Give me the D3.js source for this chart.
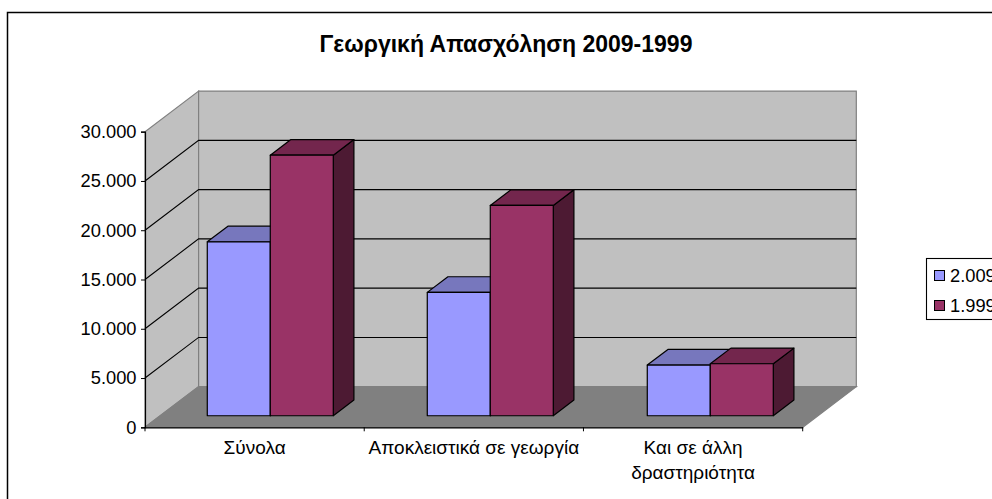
<!DOCTYPE html>
<html lang="el">
<head>
    <meta charset="UTF-8">
    <title>Γεωργική Απασχόληση 2009-1999</title>
    <script src="https://d3js.org/d3.v7.min.js"></script>
    <style>
        html, body { margin: 0; padding: 0; background: #fff; overflow: hidden; }
        svg { display: block; font-family: "Liberation Sans", Arial, sans-serif; fill: #000; }
    </style>
</head>
<body>
<svg width="992" height="499"></svg>
<script>
    const categories = ["Σύνολα", "Αποκλειστικά σε γεωργία", "Και σε άλλη\nδραστηριότητα"];
    const seriesNames = ["2.009", "1.999"];
    const values2009 = [17650, 12520, 5140];
    const values1999 = [26440, 21340, 5275];
    const yTicks = [0, 5000, 10000, 15000, 20000, 25000, 30000];

    const colors = {
        "2.009": { front: "#9999ff", top: "#7777bd", side: "#4d4d80" },
        "1.999": { front: "#993366", top: "#73264d", side: "#4d1a33" }
    };

    const svg = d3.select("svg");

    const x = d3.scaleBand().domain(categories).range([145, 802.7]);
    const y = d3.scaleLinear().domain([0, 30000]).range([427.3, 131.7]);

    // οι μπάρες έχουν λίγο μεγαλύτερο βήμα από τις υποδιαιρέσεις του άξονα
    const xBars = d3.scaleBand().domain(categories).range([145, 805]);
    const groupWidth = 126;
    const xInner = d3.scaleBand().domain(seriesNames).range([0, groupWidth]);

    // ψευδο-3Δ: βάθος d από 0 (μπροστά) ως 1 (πίσω τοίχος)
    const depthX = 53.6, depthY = -40.6;
    const barFront = 0.285, barBack = 0.67;
    const pt = (px, value, d) => [px + depthX * d, y(value) + depthY * d];
    const poly = pts => pts.map(p => p.join(",")).join(" ");

    svg.append("rect")
        .attr("x", 7.5).attr("y", 12.5)
        .attr("width", 1000).attr("height", 500)
        .attr("fill", "#fff").attr("stroke", "#000").attr("stroke-width", 1.5);

    svg.append("text")
        .attr("x", 506).attr("y", 51.5)
        .attr("text-anchor", "middle")
        .attr("font-size", 23).attr("font-weight", "bold")
        .text("Γεωργική Απασχόληση 2009-1999");

    const [xMin, xMax] = x.range();
    const yMax = 30000;

    // τοίχοι και δάπεδο
    const wallStroke = "#808080";
    svg.append("polygon")
        .attr("points", poly([pt(xMin, 0, 0), pt(xMin, yMax, 0), pt(xMin, yMax, 1), pt(xMin, 0, 1)]))
        .attr("fill", "#c0c0c0").attr("stroke", wallStroke).attr("stroke-width", 1.2);
    svg.append("polygon")
        .attr("points", poly([pt(xMin, 0, 1), pt(xMin, yMax, 1), pt(xMax, yMax, 1), pt(xMax, 0, 1)]))
        .attr("fill", "#c0c0c0").attr("stroke", wallStroke).attr("stroke-width", 1.2);
    svg.append("polygon")
        .attr("points", poly([pt(xMin, 0, 0), pt(xMin, 0, 1), pt(xMax, 0, 1), pt(xMax, 0, 0)]))
        .attr("fill", "#808080").attr("stroke", wallStroke).attr("stroke-width", 1.2);

    // γραμμές πλέγματος
    yTicks.filter(t => t > 0 && t < yMax).forEach(t => {
        svg.append("polyline")
            .attr("points", poly([pt(xMin, t, 0), pt(xMin, t, 1), pt(xMax, t, 1)]))
            .attr("fill", "none").attr("stroke", "#000").attr("stroke-width", 1.1);
    });

    // μπάρες
    const rows = categories.map((c, i) => ({ c, values: [values2009[i], values1999[i]] }));
    rows.forEach(row => {
        const start = xBars(row.c) + (xBars.bandwidth() - groupWidth) / 2;
        seriesNames.forEach((s, j) => {
            const v = row.values[j];
            const x0 = start + xInner(s);
            const x1 = x0 + xInner.bandwidth();
            const g = svg.append("g")
                .attr("stroke", "#000").attr("stroke-width", 1.2).attr("stroke-linejoin", "round");
            g.append("polygon").attr("fill", colors[s].side)
                .attr("points", poly([pt(x1, 0, barFront), pt(x1, v, barFront), pt(x1, v, barBack), pt(x1, 0, barBack)]));
            g.append("polygon").attr("fill", colors[s].top)
                .attr("points", poly([pt(x0, v, barFront), pt(x0, v, barBack), pt(x1, v, barBack), pt(x1, v, barFront)]));
            g.append("polygon").attr("fill", colors[s].front)
                .attr("points", poly([pt(x0, 0, barFront), pt(x0, v, barFront), pt(x1, v, barFront), pt(x1, 0, barFront)]));
        });
    });

    // άξονες
    const grFormat = d3.formatLocale({ decimal: ",", thousands: ".", grouping: [3], currency: ["", "€"] }).format(",");
    const yAxis = svg.append("g")
        .attr("transform", `translate(${xMin},0)`)
        .call(d3.axisLeft(y).tickValues(yTicks).tickFormat(grFormat).tickSize(4).tickPadding(4.5));
    yAxis.attr("font-family", null);
    yAxis.selectAll("text").attr("font-size", 18.3).attr("fill", "#000");

    const xAxis = svg.append("g")
        .attr("transform", `translate(0,${y(0)})`)
        .call(d3.axisBottom(x).tickSize(0).tickFormat(""));
    xAxis.attr("font-family", null);
    xAxis.selectAll(".tick line").remove();
    categories.map(c => x(c)).concat([xMax]).forEach(px => {
        xAxis.append("line").attr("x1", px).attr("x2", px).attr("y1", 0).attr("y2", 4).attr("stroke", "#000");
    });
    xAxis.selectAll(".domain").attr("stroke-width", 1.2);
    yAxis.selectAll(".domain").attr("stroke-width", 1.2);

    categories.forEach(c => {
        const t = svg.append("text")
            .attr("text-anchor", "middle")
            .attr("font-size", 19);
        c.split("\n").forEach((line, i) => {
            t.append("tspan")
                .attr("x", x(c) + x.bandwidth() / 2)
                .attr("y", 454 + i * 25)
                .text(line);
        });
    });

    // υπόμνημα
    const legend = svg.append("g");
    legend.append("rect")
        .attr("x", 926.5).attr("y", 258.5)
        .attr("width", 100).attr("height", 61)
        .attr("fill", "#fff").attr("stroke", "#000").attr("stroke-width", 1.1);
    seriesNames.forEach((s, i) => {
        const top = 270.5 + i * 30;
        legend.append("rect")
            .attr("x", 934.5).attr("y", top)
            .attr("width", 10).attr("height", 10)
            .attr("fill", colors[s].front).attr("stroke", "#000");
        legend.append("text")
            .attr("x", 950).attr("y", top + 11.5)
            .attr("font-size", 18.3)
            .text(s);
    });
</script>
</body>
</html>
